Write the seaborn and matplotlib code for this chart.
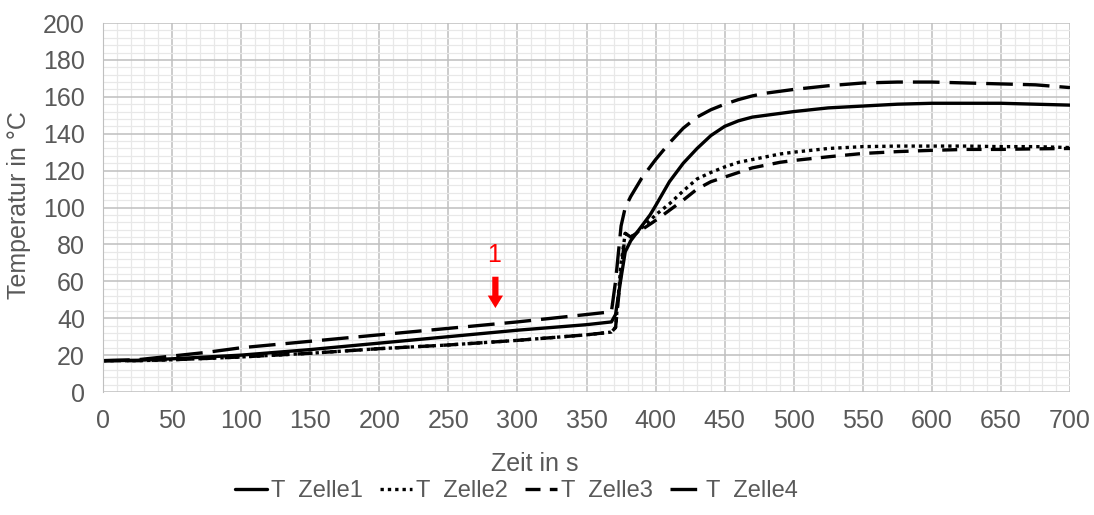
"""Temperature curves of four cells over time (recreated chart)."""

import matplotlib
matplotlib.use("Agg")
import matplotlib.pyplot as plt
from matplotlib.lines import Line2D
from matplotlib.ticker import MultipleLocator
import pandas as pd
import seaborn as sns

# time axis in s (shared by all series)
TIME = [0, 25, 50, 75, 100, 150, 200, 250, 300, 350, 368, 371, 375, 378, 382, 386,
        390, 396, 400, 410, 420, 430, 440, 450, 460, 470, 480, 490, 500, 525, 550,
        575, 600, 625, 650, 675, 700]

ZELLE1 = [17, 17.2, 18, 19, 20, 23, 26.5, 30, 33.5, 36.5, 38, 42, 62, 76, 82, 86,
          90, 96, 101, 114, 124, 132, 139, 144, 147, 149, 150, 151, 152, 154, 155,
          156, 156.5, 156.5, 156.5, 156, 155.5]
ZELLE2 = [17, 17, 17.5, 18.2, 19, 21, 23.5, 25.5, 28, 31, 32.5, 35, 70, 86, 84, 86,
          89, 93, 96, 102, 109, 115.5, 119, 122, 124.5, 126, 127.5, 129, 130, 132, 133,
          133.3, 133.3, 133.3, 133, 133, 132.5]
ZELLE3 = [17, 17, 17.5, 18.2, 19, 21, 23.5, 25.5, 28, 31, 32.5, 35, 65, 86, 84, 86,
          88, 91, 93, 98.5, 104, 110, 114, 116.5, 119, 121.5, 123, 124.5, 125.5, 127.5, 129.3,
          130.3, 131, 131.5, 131.5, 131.8, 132]
ZELLE4 = [17, 17.5, 19.5, 21.5, 24, 27.5, 31, 34.5, 38, 42, 43.5, 60, 90, 100, 106, 111,
          116, 122, 126, 135, 143, 149, 153, 156, 158.5, 160.5, 162, 163, 164, 166, 167.5,
          168, 168, 167.5, 167, 166.5, 165]

LABELS = ["T  Zelle1", "T  Zelle2", "T  Zelle3", "T  Zelle4"]
DASHES = {
    LABELS[0]: "",
    LABELS[1]: (1, 1.2),
    LABELS[2]: (4.5, 2.8),
    LABELS[3]: (8, 3),
}

ARROW_X = 284
ARROW_FROM = 64
ARROW_TO = 44

TEXT = "#595959"
FS = 18

sns.set_style("white")
plt.rcParams["font.family"] = ["Liberation Sans", "DejaVu Sans"]

df = pd.concat(
    [pd.DataFrame({"Zeit": TIME, "Temperatur": vals, "Reihe": lab})
     for lab, vals in zip(LABELS, [ZELLE1, ZELLE2, ZELLE3, ZELLE4])],
    ignore_index=True,
)

fig = plt.figure(figsize=(10.94, 5.15), dpi=100)
ax = fig.add_axes([0.0942, 0.2388, 0.8839, 0.7165])

# grid first so it stays behind the curves
ax.set_xlim(0, 700)
ax.set_ylim(0, 200)
ax.xaxis.set_major_locator(MultipleLocator(50))
ax.xaxis.set_minor_locator(MultipleLocator(10))
ax.yaxis.set_major_locator(MultipleLocator(20))
ax.yaxis.set_minor_locator(MultipleLocator(4))
ax.grid(which="major", color="#bfbfbf", lw=1.1)
ax.grid(which="minor", color="#e8e8e8", lw=0.9)
ax.set_axisbelow(True)

sns.lineplot(data=df, x="Zeit", y="Temperatur", hue="Reihe", style="Reihe",
             palette=["black"] * 4, dashes=DASHES, lw=2.4, legend=False, ax=ax,
             estimator=None)
for ln in ax.get_lines():
    ln.set_dash_capstyle("butt")

for side in ["top", "right", "bottom"]:
    ax.spines[side].set_visible(False)
ax.spines["left"].set_color("#bfbfbf")

ax.tick_params(axis="both", which="both", length=0, labelsize=FS, colors=TEXT)
ax.tick_params(axis="x", pad=12)
ax.tick_params(axis="y", pad=13)

ax.set_xlabel("Zeit in s", fontsize=FS, color=TEXT)
ax.set_ylabel("Temperatur in °C", fontsize=FS, color=TEXT)
ax.xaxis.set_label_coords(0.446, -0.163)
ax.yaxis.set_label_coords(-0.075, 0.507)

# red marker arrow with label
ax.annotate("", xy=(ARROW_X, ARROW_TO), xytext=(ARROW_X, ARROW_FROM),
            arrowprops=dict(arrowstyle="simple,head_width=1.1,head_length=0.9,tail_width=0.45",
                            color="red", lw=0))
ax.text(ARROW_X - 1, ARROW_FROM + 4, "1", color="red", fontsize=FS,
        ha="center", va="bottom")

handles = [Line2D([], [], color="black", lw=2.4, linestyle="-"),
           Line2D([], [], color="black", lw=2.4, linestyle=(0, DASHES[LABELS[1]])),
           Line2D([], [], color="black", lw=2.4, linestyle=(0, DASHES[LABELS[2]])),
           Line2D([], [], color="black", lw=2.4, linestyle=(0, (8, 3)))]
leg = fig.legend(handles, LABELS, loc="center", bbox_to_anchor=(0.472, 0.047),
                 ncol=4, frameon=False, fontsize=17, handlelength=1.35,
                 handletextpad=0.2, columnspacing=0.7, borderpad=0.1)
for t in leg.get_texts():
    t.set_color(TEXT)

fig.savefig("out.png", dpi=100)
